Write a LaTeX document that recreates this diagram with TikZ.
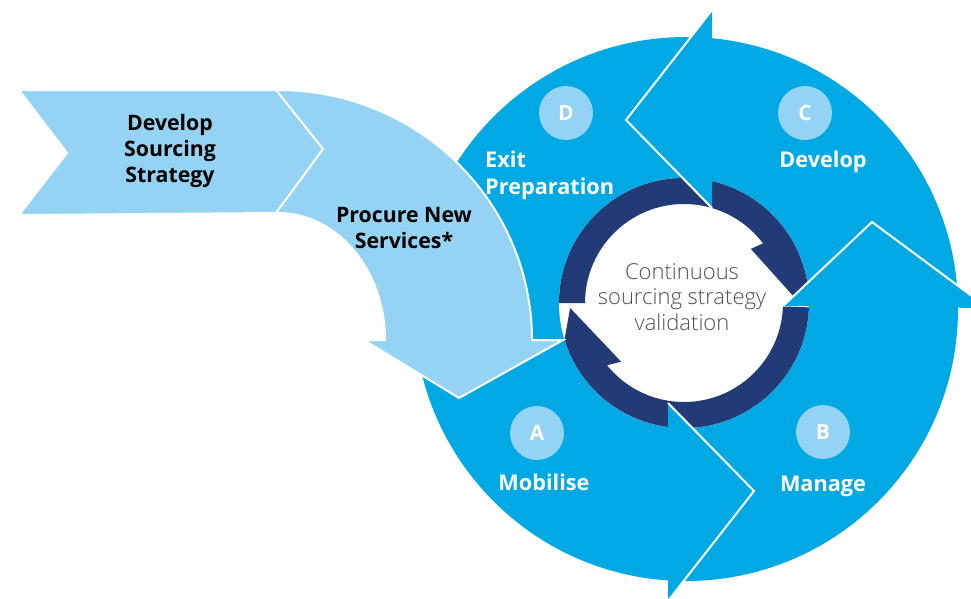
\documentclass[tikz,border=0pt]{standalone}
\usepackage{fontspec}
\setmainfont{Open Sans}
\IfFontExistsTF{Open Sans Light}
  {\newfontfamily\lightfont{Open Sans Light}}
  {\newfontfamily\lightfont{Open Sans}}
\usepackage{tikz}
\definecolor{cycleblue}{RGB}{0,169,228}
\definecolor{paleblue}{RGB}{148,211,243}
\definecolor{ringblue}{RGB}{34,58,118}
\definecolor{middlegrey}{RGB}{80,80,80}
\tikzset{whiteline/.style={
    draw=white,
    line width=2pt}}
\tikzset{badge/.style={
    circle,
    fill=paleblue,
    minimum size=54pt,
    inner sep=0pt,
    text=white,
    font=\bfseries\fontsize{21}{24}\selectfont}}
\tikzset{phase/.style={
    text=white,
    inner sep=0pt,
    font=\bfseries\fontsize{21.7}{27}\selectfont}}
\tikzset{stage/.style={
    text=black,
    inner sep=0pt,
    align=center,
    font=\bfseries\fontsize{21.3}{26}\selectfont}}

\begin{document}
\begin{tikzpicture}[x=1pt,y=-1pt]
\useasboundingbox (0,0) rectangle (971,598);
\clip (0,0) rectangle (971,598);
	\coordinate (O) at (686,309);
\coordinate (P) at (684,303);
\coordinate (Ao) at (668,601);
\coordinate (At) at (754,491);
\coordinate (Ai) at (668,403);
\coordinate (Bo) at (988,308);
\coordinate (Bt) at (872,222);
\coordinate (Bi) at (783,306);
\coordinate (Co) at (712,10);
\coordinate (Ct) at (626,120);
\coordinate (Ci) at (712,208);

% the cycle and its inner ring
\path[fill=cycleblue] (O) circle[radius=272];
\path[fill=white] (P) circle[radius=125];
\path[fill=ringblue, shift={(P)}] (180:99) -- (180:125)
    arc[start angle=180, end angle=352, radius=125] -- (358:112)
    -- (321:86) -- (323:99) arc[start angle=323, end angle=180, radius=99] -- cycle;
\path[fill=ringblue, shift={(P)}] (2:99) -- (2:125)
    arc[start angle=2, end angle=163, radius=125] -- (177.5:114)
    -- (137:86) -- (141:99) arc[start angle=141, end angle=2, radius=99] -- cycle;

\path[fill=cycleblue] (Ao) -- (At) -- (Ai) -- cycle;
\path[whiteline] (Ao) -- (At) -- (Ai);
\path[fill=cycleblue] (Bo) -- (Bt) -- (Bi) -- cycle;
\path[whiteline] (Bo) -- (Bt) -- (Bi);
\path[fill=cycleblue] (Co) -- (Ct) -- (Ci) -- cycle;
\path[whiteline] (Co) -- (Ct) -- (Ci);

% procure arrow, then the first chevron over it
\path[fill=paleblue, whiteline] (250,90) -- (278,90)
    arc[start angle=270, end angle=360, x radius=254, y radius=250]
    -- (563,340) -- (459,398) -- (364,340) -- (385,340)
    arc[start angle=0, end angle=-90, x radius=107, y radius=127]
    -- (250,213) -- cycle;
\path[fill=paleblue, whiteline] (19,90) -- (276,90) -- (323,149)
    -- (276,213) -- (19,215) -- (67,153) -- cycle;

\node[stage] (sourcing) at (170,150.6) {Develop\\Sourcing\\Strategy};
\node[stage] (procure) at (404,228.4) {Procure New\\Services*};

\node[badge] (a) at (537,433) {A};
\node[badge] (b) at (823,432) {B};
\node[badge] (c) at (805,113) {C};
\node[badge] (d) at (566,113) {D};

\node[phase, anchor=base] (mobilise) at (544,490) {Mobilise};
\node[phase, anchor=base] (manage) at (823,491) {Manage};
\node[phase, anchor=base] (develop) at (823,167) {Develop};
\node[phase, anchor=west, align=left] (exit) at (485,175.2) {Exit\\Preparation};

\node[text=middlegrey, align=center, inner sep=0pt,
    font=\lightfont\fontsize{22}{25.5}\selectfont] (validation) at (682,297)
    {Continuous\\sourcing strategy\\validation};
\end{tikzpicture}
\end{document}
